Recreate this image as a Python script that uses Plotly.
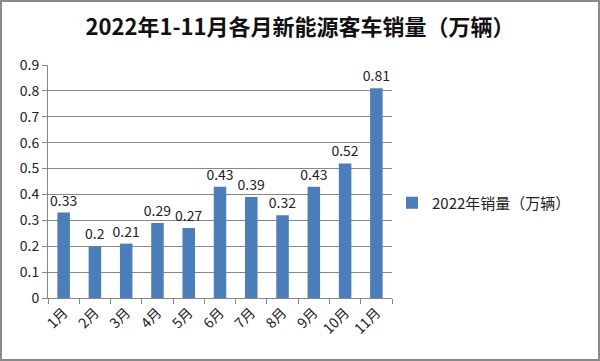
import plotly.graph_objects as go

months = ["1月", "2月", "3月", "4月", "5月", "6月", "7月", "8月", "9月", "10月", "11月"]
sales = [0.33, 0.2, 0.21, 0.29, 0.27, 0.43, 0.39, 0.32, 0.43, 0.52, 0.81]
labels = ["0.33", "0.2", "0.21", "0.29", "0.27", "0.43", "0.39", "0.32", "0.43", "0.52", "0.81"]
y_ticks = [0, 0.1, 0.2, 0.3, 0.4, 0.5, 0.6, 0.7, 0.8, 0.9]
y_tick_text = ["0", "0.1", "0.2", "0.3", "0.4", "0.5", "0.6", "0.7", "0.8", "0.9"]

FONT = "Noto Sans CJK SC"
L, R, T, B = 48, 208, 65, 63
W, H = 600, 361
pw, ph = W - L - R, H - T - B

fig = go.Figure()
fig.add_trace(go.Bar(
    x=months, y=sales, name="2022年销量（万辆）",
    marker=dict(color="#4a7ebb", line=dict(width=0)),
    width=0.4,
    text=labels, textposition="outside", cliponaxis=False, constraintext="none",
    textfont=dict(size=14, color="#222", family=FONT),
))

fig.update_layout(
    width=W, height=H,
    margin=dict(l=L, r=R, t=T, b=B, pad=0),
    paper_bgcolor="white", plot_bgcolor="white",
    font=dict(family=FONT, size=14, color="#222"),
    title=dict(text="<b>2022年1-11月各月新能源客车销量（万辆）</b>",
               x=0.5, xref="container", xanchor="center",
               y=1 - 27 / H, yanchor="middle", yref="container",
               font=dict(size=22, color="#111", family=FONT)),
    showlegend=True,
    legend=dict(x=(392 - L) / pw, xanchor="left", y=(H - B - 203) / ph, yanchor="middle",
                font=dict(size=15, family=FONT, color="#222"),
                itemwidth=30, bgcolor="rgba(0,0,0,0)"),
    bargap=0.6,
    xaxis=dict(tickangle=-45, showline=True, linecolor="#888", linewidth=1,
               ticks="outside", ticklen=5, tickcolor="#888", tickson="boundaries",
               tickfont=dict(size=14, family=FONT, color="#222"), showgrid=False),
    yaxis=dict(range=[0, 0.9], tickvals=y_ticks, ticktext=y_tick_text,
               showline=True, linecolor="#888", linewidth=1,
               ticks="outside", ticklen=5, tickcolor="#888",
               showgrid=True, gridcolor="#888", gridwidth=1, zeroline=False,
               tickfont=dict(size=14, family=FONT, color="#222")),
)

# outer frame around the whole chart
fig.add_shape(type="rect", xref="paper", yref="paper",
              x0=(1 - L) / pw, x1=(W - 1 - L) / pw,
              y0=-(B - 1) / ph, y1=1 + (T - 1) / ph,
              line=dict(color="#8a8a8a", width=2), layer="above")

fig.write_html("out.html")
